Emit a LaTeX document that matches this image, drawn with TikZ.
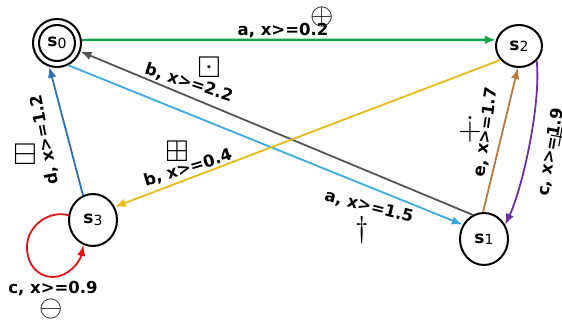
\documentclass[tikz,border=0pt]{standalone}
\usepackage{amssymb}
\usepackage{fontspec}
\setmainfont{DejaVu Sans}
\usetikzlibrary{arrows.meta,shapes.geometric}
\definecolor{cgreen}{RGB}{20,165,75}
\definecolor{cgray}{RGB}{85,85,85}
\definecolor{cblue}{RGB}{60,170,225}
\definecolor{cyellow}{RGB}{230,185,20}
\definecolor{cdblue}{RGB}{45,110,185}
\definecolor{cbrown}{RGB}{185,120,60}
\definecolor{cpurple}{RGB}{112,48,160}
\definecolor{cred}{RGB}{220,20,20}
\begin{document}
\begin{tikzpicture}[x=1pt,y=-1pt,
  state/.style={ellipse,draw,line width=2pt,inner sep=0pt,minimum width=48pt,minimum height=52pt},
  edge/.style={line width=1.8pt,-{Latex[length=11pt,width=8.5pt]}},
  lbl/.style={font=\fontsize{16.5}{19}\selectfont\bfseries,inner sep=0pt},
  sym/.style={inner sep=0pt}]
\useasboundingbox (0,0) rectangle (562,323);
\newcommand{\stlabel}[1]{{\fontsize{17}{17}\selectfont\bfseries s}\raisebox{-1.5pt}{\fontsize{14}{14}\selectfont #1}}
\newcommand{\bigsym}[1]{\scalebox{3}{$#1$}}
% states
\node[state,minimum width=48pt,minimum height=48pt] (s0) at (57,43) {\stlabel{0}};
\draw[line width=2pt] (s0.center) circle (18);
\node[state,minimum width=46pt,minimum height=42pt] (s2) at (519,46) {\stlabel{2}};
\node[state] (s1) at (484,239) {\stlabel{1}};
\node[state] (s3) at (93,220) {\stlabel{3}};
% edges
\draw[edge,cgreen,line width=2.4pt] (s0.7) -- (s2.165);
\draw[edge,cgray] (s1.115) -- (s0.-20);
\draw[edge,cblue] (s0.-63) -- (s1.146);
\draw[edge,cyellow] (s2.-143) -- (s3.31);
\draw[edge,cdblue] (s3.112) -- (s0.-108);
\draw[edge,cbrown] (s1.92) -- (s2.-93);
\draw[edge,cpurple] (s2.-40) to[out=-84,in=65,looseness=0.65] (s1.34);
\draw[edge,cred] (s3.169) .. controls (50,210) and (27,225) .. (27,247)
  .. controls (27,265) and (38,277) .. (53,277)
  .. controls (68,277) and (80,262) .. (s3.-111);
% labels
\node[lbl] (l1) at (283,31) {a, x>=0.2};
\node[lbl,rotate=-18] (l2) at (189,83) {b, x>=2.2};
\node[lbl,rotate=-14] (l3) at (369,207) {a, x>=1.5};
\node[lbl,rotate=17] (l4) at (188,168) {b, x>=0.4};
\node[lbl,rotate=101] (l5) at (45,140) {d, x>=1.2};
\node[lbl,rotate=82] (l6) at (486,132) {e, x>=1.7};
\node[lbl,rotate=80] (l7) at (551,152) {c, x>=1.9};
\node[lbl] (l8) at (53,289) {c, x>=0.9};
% symbols
\node[sym] (m1) at (322,17) {\bigsym{\oplus}};
\node[sym] (m2) at (209,67) {\bigsym{\boxdot}};
\node[sym] (m3) at (177,151) {\bigsym{\boxplus}};
\node[sym] (m4) at (25,154) {\bigsym{\boxminus}};
\node[sym] (m5) at (51,309) {\bigsym{\ominus}};
\node[sym] (m6) at (362,230) {\bigsym{\dagger}};
\node[sym] (m7) at (470,130) {\bigsym{\dotplus}};
\node[sym,rotate=80] (m8) at (563,138) {\bigsym{\pm}};
\end{tikzpicture}
\end{document}
